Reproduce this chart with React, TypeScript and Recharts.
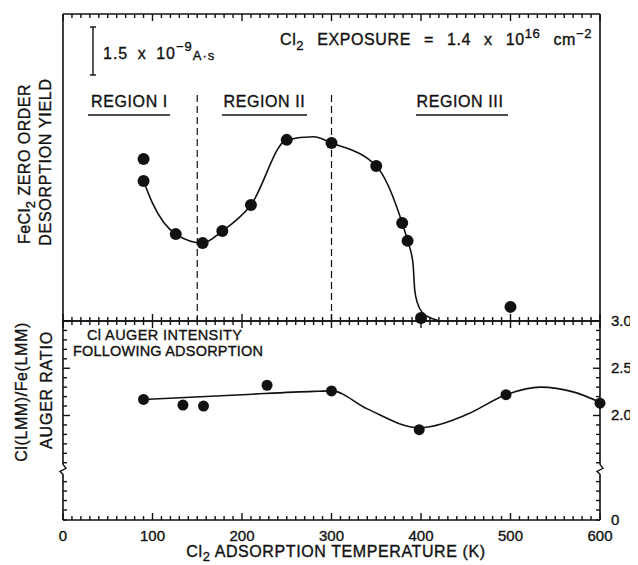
import {
  ComposedChart,
  Line,
  Scatter,
  XAxis,
  YAxis,
  ReferenceLine,
  ReferenceDot,
} from "recharts";

const FONT = "'Liberation Sans', Arial, Helvetica, sans-serif";
const INK = "#111";

// top panel: FeCl2 zero order desorption yield (arb. units, 0..10 over the panel)
const yieldTemps = [90, 90, 126, 156, 178, 210, 250, 300, 350, 379, 385, 400, 500];
const yieldValues = [5.28, 4.56, 2.83, 2.54, 2.93, 3.78, 5.9, 5.8, 5.05, 3.19, 2.61, 0.1, 0.46];
const yieldFitTemps = [90, 100, 126, 156, 178, 210, 250, 280, 300, 350, 379, 385, 391, 393, 396, 402, 413, 421];
const yieldFitValues = [4.56, 3.84, 2.83, 2.54, 2.93, 3.78, 5.9, 6.0, 5.8, 5.05, 3.19, 2.61, 1.89, 1.01, 0.59, 0.26, 0.07, 0];

// bottom panel: Cl(LMM)/Fe(LMM) Auger ratio
const augerTemps = [90, 134, 157, 228, 300, 398, 495, 600];
const augerRatios = [2.17, 2.11, 2.1, 2.32, 2.26, 1.85, 2.22, 2.13];
const augerFitTemps = [90, 200, 280, 300, 340, 398, 451, 495, 533, 570, 600];
const augerFitRatios = [2.17, 2.22, 2.255, 2.26, 2.07, 1.87, 2.01, 2.22, 2.3, 2.25, 2.14];

// region boundaries (K) and the top of the dashed lines (yield units)
const regionBounds = [150, 300];
const regionLineTop = 7.36;

// axes
const xTickLabels = [0, 100, 200, 300, 400, 500, 600];
const xMinorTicks = [
  0, 10, 20, 30, 40, 50, 60, 70, 80, 90, 100, 110, 120, 130, 140, 150, 160, 170, 180, 190, 200,
  210, 220, 230, 240, 250, 260, 270, 280, 290, 300, 310, 320, 330, 340, 350, 360, 370, 380, 390, 400,
  410, 420, 430, 440, 450, 460, 470, 480, 490, 500, 510, 520, 530, 540, 550, 560, 570, 580, 590, 600,
];
const ratioAxisFloor = 0.894; // bottom of the broken axis, printed as "0"
const ratioBreak = 1.43;
const ratioLabelValues = [ratioAxisFloor, 2.0, 2.5, 3.0];
const ratioLabelTexts = ["0", "2.0", "2.5", "3.0"];
const ratioMinorTicks = [
  1.0, 1.1, 1.2, 1.3, 1.5, 1.6, 1.7, 1.8, 1.9, 2.1, 2.2, 2.3, 2.4, 2.6, 2.7, 2.8, 2.9,
];
const ratioTicks = [...ratioLabelValues, ...ratioMinorTicks].sort((a, b) => a - b);

const yieldPoints = yieldTemps.map((x, i) => ({ x, y: yieldValues[i] }));
const yieldFit = yieldFitTemps.map((x, i) => ({ x, y: yieldFitValues[i] }));
const augerPoints = augerTemps.map((x, i) => ({ x, y: augerRatios[i] }));
const augerFit = augerFitTemps.map((x, i) => ({ x, y: augerFitRatios[i] }));

const txt = { fontFamily: FONT, fill: INK, stroke: INK, strokeWidth: 0.35 };
const axisLine = { stroke: INK, strokeWidth: 1.6 };

function XTick(props: any) {
  const { x, y, payload, dir, showLabel } = props;
  const v = payload.value as number;
  const major = v % 100 === 0;
  return (
    <g>
      <line x1={x} x2={x} y1={y} y2={y + dir * (major ? 7 : 4)} stroke={INK} strokeWidth={1.4} />
      {showLabel && xTickLabels.includes(v) && (
        <text x={x} y={y + 21} textAnchor="middle" fontSize={15} {...txt}>
          {v}
        </text>
      )}
    </g>
  );
}

function YTick(props: any) {
  const { x, y, payload, dir, showLabel } = props;
  const v = payload.value as number;
  const li = ratioLabelValues.indexOf(v);
  const major = li > 0;
  return (
    <g>
      <line x1={x} x2={x + dir * (major ? 7 : 4)} y1={y} y2={y} stroke={INK} strokeWidth={1.4} />
      {showLabel && li >= 0 && (
        <text x={x + 11} y={y + 5} textAnchor="start" fontSize={15} {...txt}>
          {ratioLabelTexts[li]}
        </text>
      )}
    </g>
  );
}

function AxisBreak(props: any) {
  const { cx, cy } = props;
  return (
    <g>
      <rect x={cx - 2} y={cy - 6} width={4} height={12} fill="#fff" />
      <path
        d={`M${cx},${cy - 7} L${cx},${cy - 5} L${cx + 3},${cy - 1} L${cx - 3},${cy + 2} L${cx},${cy + 5} L${cx},${cy + 7}`}
        fill="none"
        stroke={INK}
        strokeWidth={1.4}
      />
    </g>
  );
}

const dot = (p: any) => <circle cx={p.cx} cy={p.cy} r={6} fill={INK} />;
const dotSmall = (p: any) => <circle cx={p.cx} cy={p.cy} r={5.5} fill={INK} />;

function Underlined({ cx, label, x1, x2 }: { cx: number; label: string; x1: number; x2: number }) {
  return (
    <g>
      <text x={cx} y={99} textAnchor="middle" fontSize={16} letterSpacing={0.6} {...txt}>
        {label}
      </text>
      <line x1={x1} x2={x2} y1={107} y2={107} stroke={INK} strokeWidth={1.6} />
    </g>
  );
}

function TopPanel() {
  return (
    <ComposedChart
      width={630}
      height={322}
      margin={{ top: 0, right: 38, bottom: 1, left: 45 }}
      style={{ position: "absolute", left: 0, top: 0 }}
    >
      <XAxis
        xAxisId="b"
        type="number"
        dataKey="x"
        domain={[0, 600]}
        ticks={xMinorTicks}
        interval={0}
        height={8}
        tickSize={0}
        tickMargin={0}
        tickLine={false}
        axisLine={axisLine}
        tick={(p: any) => <XTick {...p} dir={-1} />}
      />
      <XAxis
        xAxisId="t"
        orientation="top"
        type="number"
        dataKey="x"
        domain={[0, 600]}
        ticks={xMinorTicks}
        interval={0}
        height={6}
        tickSize={0}
        tickMargin={0}
        tickLine={false}
        axisLine={axisLine}
        tick={(p: any) => <XTick {...p} dir={1} />}
      />
      <YAxis
        yAxisId="l"
        type="number"
        dataKey="y"
        domain={[0, 10]}
        width={10}
        tick={false}
        tickLine={false}
        axisLine={axisLine}
      />
      <ReferenceLine xAxisId="b" yAxisId="l" x={600} stroke={INK} strokeWidth={1.6} />
      {regionBounds.map((b) => (
        <ReferenceLine
          key={b}
          xAxisId="b"
          yAxisId="l"
          segment={[
            { x: b, y: regionLineTop },
            { x: b, y: 0 },
          ]}
          stroke={INK}
          strokeWidth={1.2}
          strokeDasharray="7 4"
        />
      ))}
      <Line
        xAxisId="b"
        yAxisId="l"
        data={yieldFit}
        dataKey="y"
        type="monotone"
        stroke={INK}
        strokeWidth={1.6}
        dot={false}
        activeDot={false}
        isAnimationActive={false}
      />
      <Scatter
        xAxisId="t"
        yAxisId="l"
        data={yieldPoints}
        shape={dot}
        isAnimationActive={false}
      />

      {/* scale bar */}
      <g stroke={INK} strokeWidth={1.4}>
        <line x1={85} x2={85} y1={19} y2={67} />
        <line x1={82} x2={88} y1={19} y2={19} />
        <line x1={82} x2={88} y1={67} y2={67} />
      </g>
      <text x={95} y={51} fontSize={16} letterSpacing={1} wordSpacing={4} {...txt}>
        1.5 x 10
        <tspan dy={-8} fontSize={13}>
          −9
        </tspan>
        <tspan dy={9} fontSize={13}>
          A·s
        </tspan>
      </text>
      <text x={272} y={37} fontSize={16} letterSpacing={0.6} wordSpacing={8} {...txt}>
        Cl
        <tspan dy={5} fontSize={13}>
          2
        </tspan>
        <tspan dy={-5}> EXPOSURE = 1.4 x 10</tspan>
        <tspan dy={-7} fontSize={13}>
          16
        </tspan>
        <tspan dy={7}> cm</tspan>
        <tspan dy={-7} fontSize={13}>
          −2
        </tspan>
      </text>

      <Underlined cx={121.5} label="REGION I" x1={80} x2={162} />
      <Underlined cx={256.5} label="REGION II" x1={214} x2={299} />
      <Underlined cx={452} label="REGION III" x1={408} x2={500} />

      <text transform="translate(22,156) rotate(-90)" textAnchor="middle" fontSize={16} letterSpacing={0.5} {...txt}>
        FeCl
        <tspan dy={5} fontSize={13}>
          2
        </tspan>
        <tspan dy={-5}> ZERO ORDER</tspan>
      </text>
      <text transform="translate(43,154) rotate(-90)" textAnchor="middle" fontSize={16} letterSpacing={0.7} {...txt}>
        DESORPTION YIELD
      </text>
    </ComposedChart>
  );
}

function BottomPanel() {
  return (
    <ComposedChart
      width={630}
      height={255}
      margin={{ top: 0, right: 0, bottom: 0, left: 45 }}
      style={{ position: "absolute", left: 0, top: 302 }}
    >
      <XAxis
        xAxisId="b"
        type="number"
        dataKey="x"
        domain={[0, 600]}
        ticks={xMinorTicks}
        interval={0}
        height={45}
        tickSize={0}
        tickMargin={0}
        tickLine={false}
        axisLine={axisLine}
        tick={(p: any) => <XTick {...p} dir={-1} showLabel />}
      />
      <XAxis
        xAxisId="t"
        orientation="top"
        type="number"
        dataKey="x"
        domain={[0, 600]}
        ticks={xMinorTicks}
        interval={0}
        height={11}
        tickSize={0}
        tickMargin={0}
        tickLine={false}
        axisLine={axisLine}
        tick={(p: any) => <XTick {...p} dir={1} />}
      />
      <YAxis
        yAxisId="l"
        type="number"
        dataKey="y"
        domain={[ratioAxisFloor, 3.0]}
        ticks={ratioTicks}
        interval={0}
        width={10}
        tickSize={0}
        tickMargin={0}
        tickLine={false}
        axisLine={axisLine}
        tick={(p: any) => <YTick {...p} dir={1} />}
      />
      <YAxis
        yAxisId="r"
        orientation="right"
        type="number"
        dataKey="y"
        domain={[ratioAxisFloor, 3.0]}
        ticks={ratioTicks}
        interval={0}
        width={38}
        tickSize={0}
        tickMargin={0}
        tickLine={false}
        axisLine={axisLine}
        tick={(p: any) => <YTick {...p} dir={-1} showLabel />}
      />
      <Line
        xAxisId="b"
        yAxisId="l"
        data={augerFit}
        dataKey="y"
        type="monotone"
        stroke={INK}
        strokeWidth={1.6}
        dot={false}
        activeDot={false}
        isAnimationActive={false}
      />
      <Scatter
        xAxisId="t"
        yAxisId="r"
        data={augerPoints}
        shape={dotSmall}
        isAnimationActive={false}
      />
      <ReferenceDot xAxisId="b" yAxisId="l" x={0} y={ratioBreak} ifOverflow="visible" shape={AxisBreak} />
      <ReferenceDot xAxisId="b" yAxisId="l" x={600} y={ratioBreak} ifOverflow="visible" shape={AxisBreak} />

      <text x={79} y={30} fontSize={14.5} letterSpacing={0.4} {...txt}>
        Cl AUGER INTENSITY
      </text>
      <text x={65} y={46} fontSize={14.5} letterSpacing={0.2} {...txt}>
        FOLLOWING ADSORPTION
      </text>

      <text transform="translate(19,82) rotate(-90)" textAnchor="middle" fontSize={16} letterSpacing={0.6} {...txt}>
        Cl(LMM)/Fe(LMM)
      </text>
      <text transform="translate(44,80) rotate(-90)" textAnchor="middle" fontSize={16} letterSpacing={0.8} {...txt}>
        AUGER RATIO
      </text>

      <text x={328} y={247} textAnchor="middle" fontSize={16} letterSpacing={0.6} {...txt}>
        Cl
        <tspan dy={4} fontSize={13}>
          2
        </tspan>
        <tspan dy={-4}> ADSORPTION TEMPERATURE (K)</tspan>
      </text>
    </ComposedChart>
  );
}

export default function App() {
  return (
    <div style={{ position: "relative", width: 630, height: 557, background: "#fff" }}>
      <BottomPanel />
      <TopPanel />
    </div>
  );
}
